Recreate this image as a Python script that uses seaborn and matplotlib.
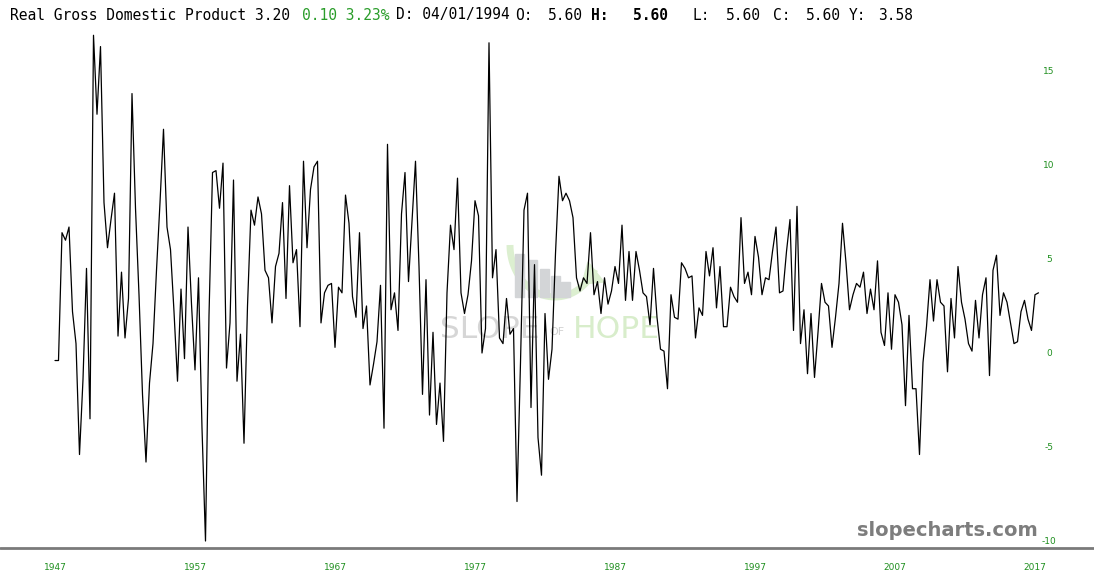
import numpy as np
import pandas as pd
import matplotlib
matplotlib.use("Agg")
import matplotlib.pyplot as plt
import matplotlib.transforms as mtransforms
from matplotlib.lines import Line2D
from matplotlib.patches import Rectangle, Polygon
import seaborn as sns

# ---------------- data: real GDP growth, quarterly (annualized %), 1947Q2 .. 2017Q3
gdp_1940s = [-0.4, -0.4, 6.4, 6.0, 6.7, 2.2, 0.5, -5.4, -1.4, 4.5, -3.5]
gdp_1950s = [16.9, 12.7, 16.3, 8.0, 5.6, 7.1, 8.5, 0.9, 4.3, 0.8, 2.9, 13.8,
             7.7, 3.1, -2.2, -5.8, -1.6, 0.5, 4.4, 8.0, 11.9, 6.7, 5.5, 2.2,
             -1.5, 3.4, -0.3, 6.7, 2.6, -0.9, 4.0, -4.0, -10.0, 2.0, 9.6, 9.7,
             7.7, 10.1, -0.8, 1.6]
gdp_1960s = [9.2, -1.5, 1.0, -4.8, 2.5, 7.6, 6.8, 8.3, 7.4, 4.4, 4.0, 1.6,
             4.6, 5.3, 8.0, 2.9, 8.9, 4.8, 5.5, 1.4, 10.2, 5.6, 8.7, 9.9,
             10.2, 1.6, 3.2, 3.6, 3.7, 0.3, 3.5, 3.2, 8.4, 6.9, 3.0, 1.9,
             6.4, 1.3, 2.5, -1.7]
gdp_1970s = [-0.6, 0.6, 3.6, -4.0, 11.1, 2.3, 3.2, 1.2, 7.4, 9.6, 3.8, 7.0,
             10.2, 4.6, -2.2, 3.9, -3.3, 1.1, -3.8, -1.6, -4.7, 3.2, 6.8, 5.5,
             9.3, 3.2, 2.1, 3.1, 4.9, 8.1, 7.3, 0.0, 1.3, 16.5, 4.0, 5.5,
             0.8, 0.5, 2.9, 1.0]
gdp_1980s = [1.3, -7.9, -0.5, 7.6, 8.5, -2.9, 4.7, -4.5, -6.5, 2.1, -1.4, 0.2,
             5.3, 9.4, 8.1, 8.5, 8.1, 7.2, 4.0, 3.3, 4.0, 3.7, 6.4, 3.1,
             3.8, 2.1, 4.0, 2.6, 3.3, 4.6, 3.7, 6.8, 2.8, 5.4, 2.8, 5.4,
             4.4, 3.2, 3.0, 1.5]
gdp_1990s = [4.5, 1.9, 0.2, 0.1, -1.9, 3.1, 1.9, 1.8, 4.8, 4.5, 4.0, 4.1,
             0.8, 2.4, 2.0, 5.4, 4.1, 5.6, 2.4, 4.6, 1.4, 1.4, 3.5, 3.0,
             2.7, 7.2, 3.7, 4.3, 3.1, 6.2, 5.1, 3.1, 4.0, 3.9, 5.4, 6.7,
             3.2, 3.3, 5.4, 7.1]
gdp_2000s = [1.2, 7.8, 0.5, 2.3, -1.1, 2.1, -1.3, 1.1, 3.7, 2.7, 2.5, 0.3,
             1.9, 3.7, 6.9, 4.8, 2.3, 3.1, 3.7, 3.5, 4.3, 2.1, 3.4, 2.3,
             4.9, 1.1, 0.4, 3.2, 0.2, 3.1, 2.7, 1.5, -2.8, 2.0, -1.9, -1.9,
             -5.4, -0.5, 1.4, 3.9]
gdp_2010s = [1.7, 3.9, 2.7, 2.5, -1.0, 2.9, 0.8, 4.6, 2.7, 1.8, 0.5, 0.1,
             2.8, 0.8, 3.1, 4.0, -1.2, 4.4, 5.2, 2.0, 3.2, 2.7, 1.6, 0.5,
             0.6, 2.2, 2.8, 1.8, 1.2, 3.1, 3.2]

gdp = gdp_1940s + gdp_1950s + gdp_1960s + gdp_1970s + gdp_1980s + gdp_1990s + gdp_2000s + gdp_2010s
first_quarter = "1947Q2"

x_tick_years = [1947, 1957, 1967, 1977, 1987, 1997, 2007, 2017]
y_tick_values = [15, 10, 5, 0, -5, -10]

title_text = "Real Gross Domestic Product 3.20"
change_text = "0.10 3.23%"
date_text = "D: 04/01/1994"
ohlc_labels = ["O:", "H:", "L:", "C:", "Y:"]
ohlc_values = ["5.60", "5.60", "5.60", "5.60", "3.58"]

# ---------------- build frame
quarters = pd.period_range(first_quarter, periods=len(gdp), freq="Q")
t = quarters.year + (quarters.quarter - 1) / 4.0
df = pd.DataFrame({"t": t, "gdp": gdp})

W, H = 1094, 588
sns.set_theme(style="white")
plt.rcParams["font.family"] = ["DejaVu Sans"]

fig = plt.figure(figsize=(W / 100, H / 100), dpi=100)
fig.patch.set_facecolor("white")
ax_top, ax_bot = 28, 548
ax = fig.add_axes([0, (H - ax_bot) / H, 1, (ax_bot - ax_top) / H])
ax.set_facecolor("none")

sns.lineplot(data=df, x="t", y="gdp", color="black", lw=0.9, ax=ax, zorder=3)

px_per_year = 14.0
x_first_px = 55.0
t0 = t[0]
ax.set_xlim(t0 - x_first_px / px_per_year, t0 + (W - x_first_px) / px_per_year)
px_per_unit = 18.8
zero_px = 353.0
ax.set_ylim((zero_px - ax_bot) / px_per_unit, (zero_px - ax_top) / px_per_unit)

for s in ax.spines.values():
    s.set_visible(False)
ax.set_xlabel("")
ax.set_ylabel("")
ax.grid(False)

tick_green = "#1f8f1f"
ax.set_xticks([y + (t0 - int(t0)) for y in x_tick_years])
ax.set_xticklabels([str(y) for y in x_tick_years])
ax.tick_params(axis="x", length=0, pad=11, labelsize=6.5, labelcolor=tick_green)

ax.yaxis.tick_right()
ax.set_yticks(y_tick_values)
ax.set_yticklabels([str(v) for v in y_tick_values])
ax.tick_params(axis="y", length=0, pad=-32.4, labelsize=6.5, labelcolor=tick_green)
for lbl in ax.get_yticklabels():
    lbl.set_horizontalalignment("center")

# bottom axis line
fig.add_artist(Line2D([0, 1], [1 - ax_bot / H] * 2, transform=fig.transFigure,
                      color="#7a7a7a", lw=2))

# ---------------- header
def ptext(x, y, s, **kw):
    fig.text(x / W, 1 - y / H, s, va="center", ha="left",
             family=["DejaVu Sans Mono"], fontsize=10.5, **kw)

ptext(10, 15, title_text, color="black")
ptext(302, 15, change_text, color="#2a9d2a")
ptext(396, 15, date_text, color="black")
label_x = [515, 591, 693, 773, 849]
value_x = [548, 633, 726, 806, 878]
for i, (lab, val) in enumerate(zip(ohlc_labels, ohlc_values)):
    wt = "bold" if lab == "H:" else "normal"
    ptext(label_x[i], 15, lab, color="black", fontweight=wt)
    ptext(value_x[i], 15, val, color="black", fontweight=wt)

# ---------------- watermark (Slope of Hope)
pix = mtransforms.Affine2D().scale(1 / W, -1 / H).translate(0, 1) + fig.transFigure
a = np.radians(np.linspace(180, 28, 60))
fig.add_artist(Line2D(555 + 45 * np.cos(a), 245 + 52 * np.sin(a), transform=pix,
                      color="#dcefd0", lw=5, zorder=-2, solid_capstyle="butt"))
fig.add_artist(Polygon([[588, 262], [604, 282], [582, 284]], closed=True,
                       transform=pix, color="#dcefd0", zorder=-2))
bars = [(515, 254), (528, 260), (540, 269), (551, 276), (561, 282)]
for bx, by in bars:
    fig.add_artist(Rectangle((bx, by), 9, 297 - by, transform=pix,
                             color="#d3d5d7", zorder=-1))
fig.text(440 / W, 1 - 330 / H, "SLOPE", ha="left", va="center", fontsize=22.5,
         color="#d6d6d6", zorder=-1)
fig.text(549 / W, 1 - 332 / H, "OF", ha="left", va="center", fontsize=8,
         color="#d0d0d0", zorder=-1)
fig.text(573 / W, 1 - 330 / H, "HOPE", ha="left", va="center", fontsize=22.5,
         color="#d8edcb", zorder=-1)

# ---------------- brand
fig.text(1038 / W, 1 - 531 / H, "slopecharts.com", ha="right", va="center",
         fontsize=14, fontweight="bold", color="#7d7d7d")

fig.savefig("out.png", dpi=100)
